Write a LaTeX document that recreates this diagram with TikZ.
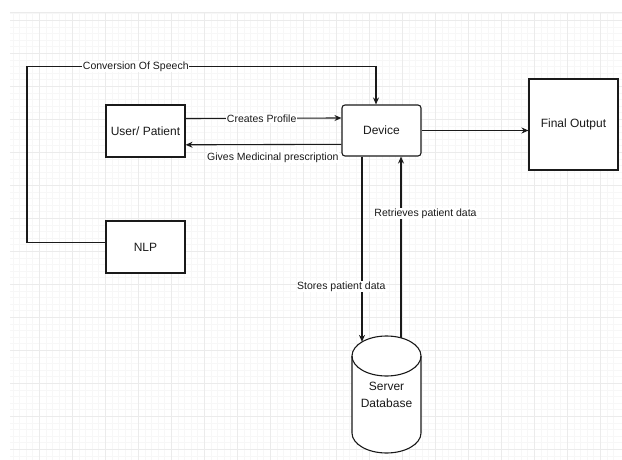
\documentclass[tikz,border=0pt]{standalone}
\usepackage{fontspec}
\setmainfont{Liberation Sans}
\usetikzlibrary{arrows.meta,calc}
\definecolor{gminor}{HTML}{F7F7F7}
\definecolor{gmajor}{HTML}{EBEBEB}
\definecolor{ink}{HTML}{1A1A1A}
\tikzset{
  box/.style={draw=ink, line width=1.1pt, fill=white, inner sep=0pt, font=\fontsize{12}{14}\selectfont, text=ink},
  lab/.style={fill=white, inner sep=0.6pt, font=\fontsize{10.5}{12.5}\selectfont, text=ink},
  conn/.style={draw=ink, line width=1.1pt},
  arr/.style={conn, -{Stealth[length=7pt,width=6pt]}}
}
\begin{document}
\begin{tikzpicture}[x=1pt,y=-1pt]
\useasboundingbox (0,0) rectangle (622,460);
% grid
\foreach \i in {1,...,92} \draw[gminor, line width=0.6pt] (6.3+6.6*\i,12) -- (6.3+6.6*\i,460);
\foreach \j in {0,...,67} \draw[gminor, line width=0.6pt] (10,13.7+6.6*\j) -- (622,13.7+6.6*\j);
\foreach \i in {1,...,18} \draw[gmajor, line width=0.7pt] (6.3+33*\i,12) -- (6.3+33*\i,460);
\foreach \j in {0,...,13} \draw[gmajor, line width=0.7pt] (10,20.3+33*\j) -- (622,20.3+33*\j);
\draw[gmajor, line width=0.7pt] (10,12) -- (622,12);
% nodes
\node[box, minimum width=79pt, minimum height=52pt] (user) at (145.5,131) {User/ Patient};
\node[box, minimum width=79pt, minimum height=51pt, rounded corners=3pt] (device) at (381.5,130.5) {Device};
\node[box, minimum width=89pt, minimum height=91pt] (final) at (573.5,124.5) {Final Output};
\node[box, minimum width=79pt, minimum height=52pt] (nlp) at (145.5,247) {NLP};
% database cylinder
\fill[white] (352,356) -- (352,433) arc[start angle=180,end angle=360,x radius=34.5pt,y radius=20pt] -- (421,356) -- cycle;
\fill[white] (386.5,356) ellipse [x radius=34.5pt, y radius=20pt];
\draw[ink, line width=1.1pt] (352,356) -- (352,433) arc[start angle=180,end angle=360,x radius=34.5pt,y radius=20pt] -- (421,356);
\draw[ink, line width=1.1pt] (386.5,356) ellipse [x radius=34.5pt, y radius=20pt];
\node[inner sep=0pt, minimum width=69pt, minimum height=117pt, align=center, font=\fontsize{12}{17}\selectfont, text=ink] (db) at (386.5,394.5) {Server\\Database};
\coordinate (dbinL) at (362,341.9);
\coordinate (dbinR) at (401,337.9);
\coordinate (turn) at (27,66.7);
% connectors
\draw[arr] ([yshift=4.3pt]nlp.west) -| (turn) -| ([xshift=-5.5pt]device.north);
\node[lab] (conv) at (135.8,66.7) {Conversion Of Speech};
\draw[arr] ([yshift=12.5pt]user.east) -- ([yshift=12.5pt]device.west) node[lab, midway, xshift=-1.8pt] {Creates Profile};
\draw[arr] ([yshift=-13.8pt]device.west) -- ([yshift=-13.8pt]user.east) node[lab, pos=0.44, yshift=-13.4pt] {Gives Medicinal prescription};
\draw[arr] (device.east) -- (device.east -| final.west);
\draw[arr] ([xshift=-19.5pt]device.south) -- (dbinL);
\node[lab] (stores) at (341.3,286.7) {Stores patient data};
\draw[arr] (dbinR) -- ([xshift=19.5pt]device.south);
\node[lab] (retr) at (425.5,213.3) {Retrieves patient data};
\end{tikzpicture}
\end{document}
